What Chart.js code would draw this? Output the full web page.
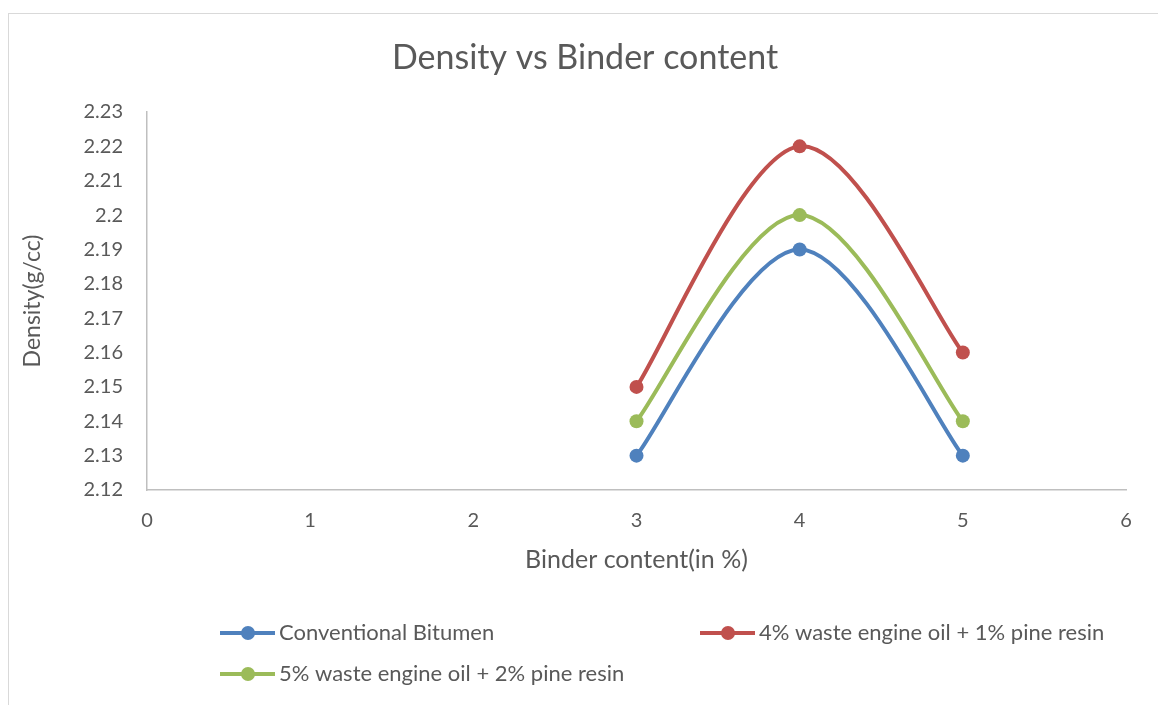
<!DOCTYPE html>
<html>
<head>
<meta charset="utf-8">
<script src="https://cdn.jsdelivr.net/npm/chart.js@4"></script>
<style>
  html, body { margin: 0; padding: 0; background: #ffffff; overflow: hidden; }
  #wrap { position: relative; width: 1158px; height: 705px; }
  #frame { position: absolute; left: 8px; top: 13px; width: 1200px; height: 760px; border: 1px solid #d9d9d9; box-sizing: border-box; }
  canvas { position: absolute; left: 0; top: 0; }
</style>
</head>
<body>
<div id="wrap">
  <div id="frame"></div>
  <canvas id="c" width="1158" height="705"></canvas>
</div>
<script>
// ---- data ----
const chartTitle = 'Density vs Binder content';
const xTitle = 'Binder content(in %)';
const yTitle = 'Density(g/cc)';
const binderContent = [3, 4, 5];
const seriesNames = [
  'Conventional Bitumen',
  '4% waste engine oil + 1% pine resin',
  '5% waste engine oil + 2% pine resin'
];
const conventional = [2.13, 2.19, 2.13];
const oil4resin1 = [2.15, 2.22, 2.16];
const oil5resin2 = [2.14, 2.20, 2.14];
const xTickLabels = ['0', '1', '2', '3', '4', '5', '6'];
const yTickLabels = ['2.12', '2.13', '2.14', '2.15', '2.16', '2.17', '2.18', '2.19', '2.2', '2.21', '2.22', '2.23'];
const seriesColors = ['#4f81bd', '#c0504d', '#9bbb59'];

const FONT = 'Lato, "Open Sans", sans-serif';
const TEXT = '#595959';

function pts(ys) { return binderContent.map((x, i) => ({ x: x, y: ys[i] })); }

const seriesValues = [conventional, oil4resin1, oil5resin2];
const datasets = seriesValues.map((vals, i) => ({
  label: seriesNames[i],
  data: pts(vals),
  showLine: true,
  borderColor: seriesColors[i],
  backgroundColor: seriesColors[i],
  borderWidth: 4,
  pointRadius: 7,
  pointHoverRadius: 7,
  pointBorderWidth: 0,
  tension: 0.34,
  fill: false
}));

// Excel-style smoothing: Bezier control points at 1/6 of neighbour chord
const excelSmooth = {
  id: 'excelSmooth',
  beforeDatasetsDraw(chart) {
    chart.data.datasets.forEach((ds, di) => {
      const meta = chart.getDatasetMeta(di);
      const line = meta.dataset;
      if (!line) return;
      line.updateControlPoints(chart.chartArea, 'x');
      const p = line.points;
      const n = p.length;
      for (let i = 0; i < n; i++) {
        const a = p[Math.max(i - 1, 0)];
        const b = p[Math.min(i + 1, n - 1)];
        const dx = (b.x - a.x) / 6, dy = (b.y - a.y) / 6;
        p[i].cp1x = p[i].x - dx; p[i].cp1y = p[i].y - dy;
        p[i].cp2x = p[i].x + dx; p[i].cp2y = p[i].y + dy;
      }
    });
  }
};

// title + Excel-like two-column legend
const decorPlugin = {
  id: 'xlDecor',
  afterDraw(chart) {
    const ctx = chart.ctx;
    ctx.save();
    ctx.fillStyle = TEXT;
    ctx.font = '34px ' + FONT;
    ctx.textBaseline = 'middle';
    ctx.textAlign = 'center';
    ctx.fillText(chartTitle, 585, 58);

    const slots = [
      { x: 220, y: 633 },
      { x: 700, y: 633 },
      { x: 220, y: 674 }
    ];
    chart.data.datasets.forEach((ds, i) => {
      const s = slots[i];
      ctx.strokeStyle = ds.borderColor;
      ctx.lineWidth = 4;
      ctx.beginPath();
      ctx.moveTo(s.x, s.y);
      ctx.lineTo(s.x + 55, s.y);
      ctx.stroke();
      ctx.fillStyle = ds.backgroundColor;
      ctx.beginPath();
      ctx.arc(s.x + 28, s.y, 7, 0, Math.PI * 2);
      ctx.fill();
      ctx.fillStyle = TEXT;
      ctx.font = '22px ' + FONT;
      ctx.textBaseline = 'middle';
      ctx.textAlign = 'left';
      ctx.fillText(ds.label, s.x + 59, s.y);
    });
    ctx.restore();
  }
};

new Chart(document.getElementById('c'), {
  type: 'scatter',
  data: { datasets: datasets },
  plugins: [excelSmooth, decorPlugin],
  options: {
    responsive: false,
    animation: false,
    events: [],
    layout: { padding: { left: 0, right: 32, top: 112, bottom: 125 } },
    plugins: {
      legend: { display: false },
      tooltip: { enabled: false },
      title: { display: false }
    },
    scales: {
      x: {
        type: 'linear',
        min: 0, max: 6,
        afterFit(scale) { scale.height = 90; },
        grid: { display: false, drawTicks: false },
        border: { display: true, color: '#bfbfbf', width: 1.5 },
        ticks: {
          stepSize: 1,
          padding: 19,
          color: TEXT,
          font: { family: FONT, size: 20 },
          callback: (v, i) => xTickLabels[i]
        },
        title: {
          display: true,
          text: xTitle,
          color: TEXT,
          font: { family: FONT, size: 25 },
          padding: { top: 0, bottom: 5 }
        }
      },
      y: {
        type: 'linear',
        min: 2.12, max: 2.23,
        afterFit(scale) { scale.width = 147; },
        grid: { display: false, drawTicks: false },
        border: { display: true, color: '#bfbfbf', width: 1.5 },
        ticks: {
          stepSize: 0.01,
          padding: 24,
          color: TEXT,
          font: { family: FONT, size: 20 },
          callback: (v, i) => yTickLabels[i]
        },
        title: {
          display: true,
          text: yTitle,
          color: TEXT,
          font: { family: FONT, size: 23 },
          padding: { top: 19, bottom: 0 }
        }
      }
    }
  }
});
</script>
</body>
</html>
